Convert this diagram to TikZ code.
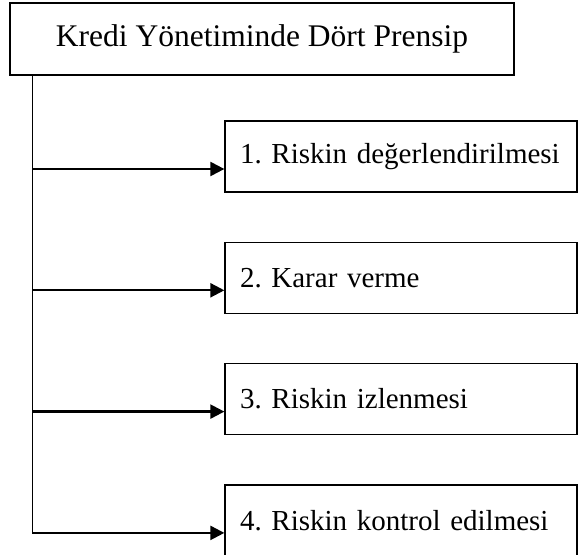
\documentclass[tikz,border=0pt]{standalone}
\usepackage{fontspec}
\setmainfont{Liberation Serif}
\frenchspacing
\usetikzlibrary{arrows.meta, positioning}

\tikzset{
    headbox/.style={draw, line width=1.3pt, minimum width=504pt, minimum height=72pt, font=\fontsize{31.5}{36}\selectfont},
    stepbox/.style={draw, line width=1.3pt, minimum width=352pt, minimum height=71pt, text width=322pt, align=left, inner xsep=15pt, font=\fontsize{29}{34}\selectfont},
    link/.style={line width=2.3pt, -{Triangle[length=14pt,width=14pt]}},
}

\begin{document}
\begin{tikzpicture}[x=1pt, y=-1pt, node distance=49pt]
    \useasboundingbox (0,0) rectangle (578,554);

    \node[headbox] (head) at (262,39) {Kredi Yönetiminde Dört Prensip}; % main title
    \node[stepbox] (b1) at (401,156.5) {1. Riskin değerlendirilmesi};
    \node[stepbox, below=of b1] (b2) {2. Karar verme};
    \node[stepbox, below=of b2] (b3) {3. Riskin izlenmesi};
    \node[stepbox, below=of b3] (b4) {4. Riskin kontrol edilmesi};

    \coordinate (trunk) at ([xshift=23pt]head.south west); % vertical line start
    \coordinate (j1) at ([yshift=-12.5pt]b1.west -| trunk);
    \coordinate (j2) at ([yshift=-12.5pt]b2.west -| trunk);
    \coordinate (j3) at ([yshift=-12.5pt]b3.west -| trunk);
    \coordinate (j4) at ([yshift=-12.5pt]b4.west -| trunk);

    \draw[line width=1.3pt] (trunk) -- (j4);
    \draw[link] (j1) -- (j1 -| b1.west);
    \draw[link] (j2) -- (j2 -| b2.west);
    \draw[link] (j3) -- (j3 -| b3.west);
    \draw[link] (j4) -- (j4 -| b4.west);
\end{tikzpicture}
\end{document}
